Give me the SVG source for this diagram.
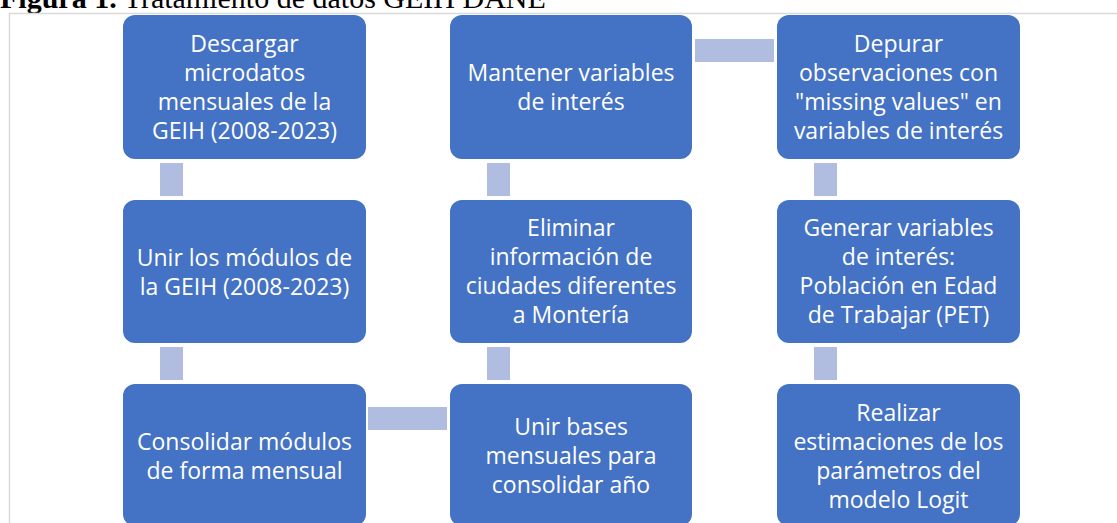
<svg xmlns="http://www.w3.org/2000/svg" width="1117" height="523" viewBox="0 0 1117 523">
  <style>
    .box { fill: #4472C4; }
    .conn { fill: #B0BDE0; }
    .lbl { font-family: "Open Sans", "Liberation Sans", sans-serif; font-size: 23px; fill: #FFFFFF; text-anchor: middle; }
    .title { font-family: "Liberation Serif", serif; font-size: 30px; fill: #000000; }
  </style>
  <rect x="0" y="0" width="1117" height="523" fill="#FFFFFF"/>
  <text class="title" x="0" y="8"><tspan font-weight="bold">Figura 1.</tspan> Tratamiento de datos GEIH DANE</text>
  <path d="M9.5 523 V13.5 H1117" fill="none" stroke="#D9D9D9" stroke-width="1.5"/>

  <g id="connectors">
    <rect class="conn" x="160" y="163" width="23" height="33"/>
    <rect class="conn" x="160" y="347" width="23" height="33"/>
    <rect class="conn" x="368" y="407" width="79" height="23"/>
    <rect class="conn" x="487" y="347" width="23" height="33"/>
    <rect class="conn" x="487" y="163" width="23" height="33"/>
    <rect class="conn" x="695" y="39" width="79" height="23"/>
    <rect class="conn" x="814" y="163" width="23" height="33"/>
    <rect class="conn" x="814" y="347" width="23" height="33"/>
  </g>

  <g id="n1">
    <rect class="box" x="123" y="15" width="243" height="144" rx="12"/>
    <text class="lbl" x="244.5" y="51.5">Descargar</text>
    <text class="lbl" x="244.5" y="80.5">microdatos</text>
    <text class="lbl" x="244.5" y="109.5">mensuales de la</text>
    <text class="lbl" x="244.5" y="138.5">GEIH (2008-2023)</text>
  </g>
  <g id="n2">
    <rect class="box" x="123" y="200" width="243" height="143" rx="12"/>
    <text class="lbl" x="244.5" y="265.5">Unir los módulos de</text>
    <text class="lbl" x="244.5" y="294.5">la GEIH (2008-2023)</text>
  </g>
  <g id="n3">
    <rect class="box" x="123" y="384" width="243" height="142" rx="12"/>
    <text class="lbl" x="244.5" y="449.5">Consolidar módulos</text>
    <text class="lbl" x="244.5" y="478.5">de forma mensual</text>
  </g>
  <g id="n4">
    <rect class="box" x="450" y="384" width="242" height="142" rx="12"/>
    <text class="lbl" x="571" y="435">Unir bases</text>
    <text class="lbl" x="571" y="464">mensuales para</text>
    <text class="lbl" x="571" y="493">consolidar año</text>
  </g>
  <g id="n5">
    <rect class="box" x="450" y="200" width="242" height="143" rx="12"/>
    <text class="lbl" x="571" y="236">Eliminar</text>
    <text class="lbl" x="571" y="265">información de</text>
    <text class="lbl" x="571" y="294">ciudades diferentes</text>
    <text class="lbl" x="571" y="323">a Montería</text>
  </g>
  <g id="n6">
    <rect class="box" x="450" y="15" width="242" height="144" rx="12"/>
    <text class="lbl" x="571" y="80.5">Mantener variables</text>
    <text class="lbl" x="571" y="109.5">de interés</text>
  </g>
  <g id="n7">
    <rect class="box" x="777" y="15" width="243" height="144" rx="12"/>
    <text class="lbl" x="898.5" y="51.5">Depurar</text>
    <text class="lbl" x="898.5" y="80.5">observaciones con</text>
    <text class="lbl" x="898.5" y="109.5">"missing values" en</text>
    <text class="lbl" x="898.5" y="138.5">variables de interés</text>
  </g>
  <g id="n8">
    <rect class="box" x="777" y="200" width="243" height="143" rx="12"/>
    <text class="lbl" x="898.5" y="236">Generar variables</text>
    <text class="lbl" x="898.5" y="265">de interés:</text>
    <text class="lbl" x="898.5" y="294">Población en Edad</text>
    <text class="lbl" x="898.5" y="323">de Trabajar (PET)</text>
  </g>
  <g id="n9">
    <rect class="box" x="777" y="384" width="243" height="142" rx="12"/>
    <text class="lbl" x="898.5" y="420.5">Realizar</text>
    <text class="lbl" x="898.5" y="449.5">estimaciones de los</text>
    <text class="lbl" x="898.5" y="478.5">parámetros del</text>
    <text class="lbl" x="898.5" y="507.5">modelo Logit</text>
  </g>
</svg>
